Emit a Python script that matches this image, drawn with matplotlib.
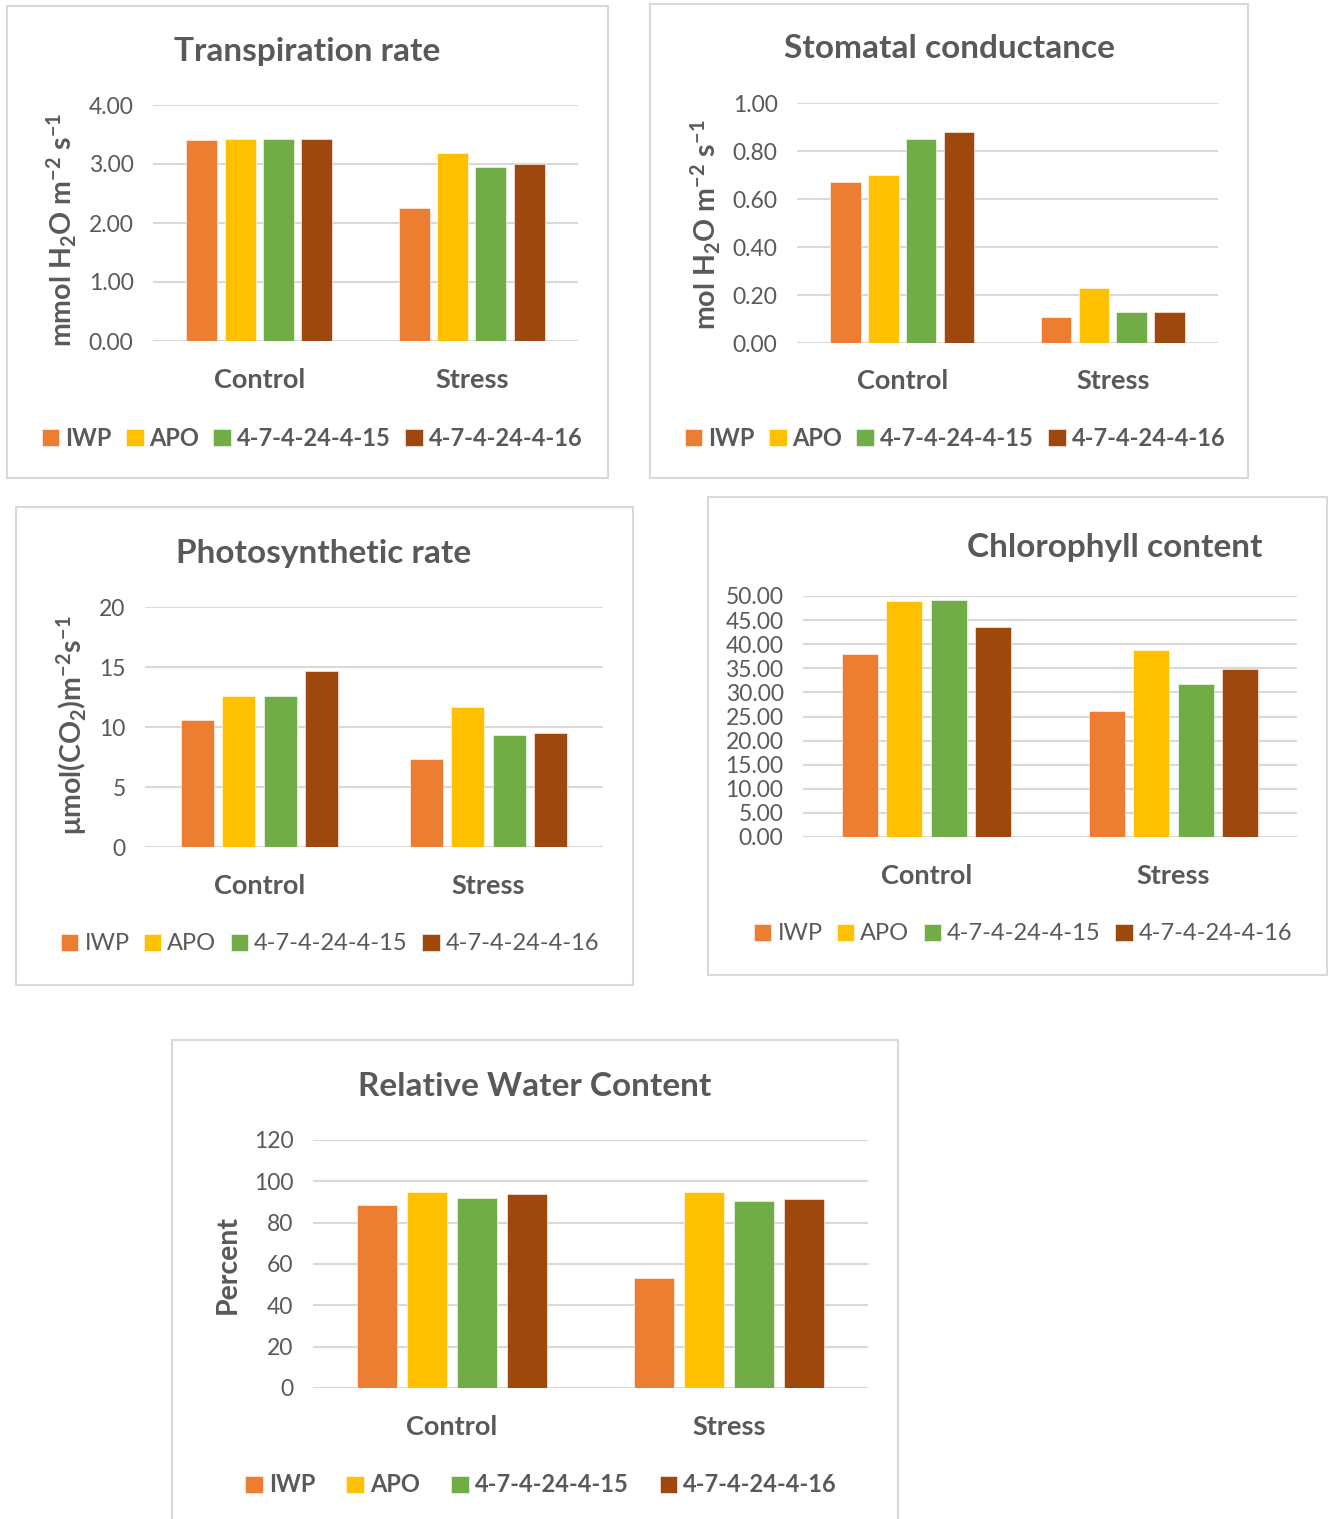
import matplotlib
matplotlib.use("Agg")
import matplotlib.pyplot as plt
from matplotlib.patches import Rectangle
import numpy as np

plt.rcParams['font.family'] = ['Lato', 'DejaVu Sans']
plt.rcParams['mathtext.fontset'] = 'custom'
plt.rcParams['mathtext.rm'] = 'Lato'
plt.rcParams['mathtext.bf'] = 'Lato:bold'
plt.rcParams['mathtext.default'] = 'bf'

categories = ["Control", "Stress"]
series = ["IWP", "APO", "4-7-4-24-4-15", "4-7-4-24-4-16"]
colors = ["#ED7D31", "#FFC000", "#70AD47", "#9E480E"]

transpiration = [[3.40, 2.25], [3.43, 3.18], [3.42, 2.95], [3.43, 3.00]]
stomatal = [[0.67, 0.11], [0.70, 0.23], [0.85, 0.13], [0.88, 0.13]]
photosynthetic = [[10.6, 7.3], [12.6, 11.7], [12.6, 9.3], [14.7, 9.5]]
chlorophyll = [[38.0, 26.2], [49.0, 38.7], [49.2, 31.8], [43.5, 34.8]]
rwc = [[88.5, 53.0], [95.0, 95.0], [92.0, 90.5], [94.0, 91.5]]

W, H = 1335, 1519
fig = plt.figure(figsize=(W / 100, H / 100), dpi=100)
GRAY = "#595959"
GRID = "#d9d9d9"


def fx(x):
    return x / W


def fy(y):
    return 1 - y / H


def panel(box, axbox, data, ticks, fmt, title, tpos, ylabel, ypos, cat_y,
          leg_pos, leg_bold, leg_spacing=1.0):
    x0, y0, x1, y1 = box
    fig.patches.append(Rectangle((fx(x0), fy(y1)), fx(x1 - x0), (y1 - y0) / H,
                                 transform=fig.transFigure, fill=False,
                                 edgecolor=GRID, lw=1.5))
    ax0, ay0, ax1, ay1 = axbox
    ax = fig.add_axes([fx(ax0), fy(ay1), fx(ax1 - ax0), (ay1 - ay0) / H])
    x = np.arange(len(categories))
    step, width = 0.18, 0.145
    for i, (vals, c) in enumerate(zip(data, colors)):
        ax.bar(x + (i - 1.5) * step, vals, width, color=c, label=series[i],
               zorder=3, edgecolor="white", linewidth=0.4)
    ax.set_xlim(-0.5, 1.5)
    ax.set_ylim(ticks[0], ticks[-1])
    ax.set_yticks(ticks)
    ax.set_yticklabels([fmt.format(t) for t in ticks])
    ax.grid(axis="y", color=GRID, lw=1.5, zorder=0)
    ax.set_axisbelow(True)
    for s in ax.spines.values():
        s.set_visible(False)
    ax.tick_params(axis="y", length=0, labelsize=16.5, labelcolor=GRAY, pad=14)
    ax.set_xticks(x)
    ax.set_xticklabels(categories, fontsize=19.5, fontweight="bold", color=GRAY)
    ax.tick_params(axis="x", length=0, pad=(cat_y - ay1 - 11) * 0.72)
    fig.text(fx(tpos[0]), fy(tpos[1] + 2), title, fontsize=24, fontweight="bold",
             color=GRAY, ha="center", va="center")
    if ylabel:
        fig.text(fx(ypos[0]), fy(ypos[1]), ylabel, fontsize=20.5,
                 fontweight="bold", color=GRAY, rotation=90,
                 ha="center", va="center")
    leg = ax.legend(loc="center", bbox_to_anchor=(fx(leg_pos[0]), fy(leg_pos[1])),
                    bbox_transform=fig.transFigure, ncol=4, frameon=False,
                    handlelength=0.75, handleheight=0.75, handletextpad=0.25,
                    columnspacing=0.6 * leg_spacing, borderaxespad=0,
                    prop={"size": 17 if leg_bold else 17,
                          "weight": "bold" if leg_bold else "normal"})
    for t in leg.get_texts():
        t.set_color(GRAY)
    return ax


panel((7, 6, 608, 478), (153, 105, 578, 341), transpiration,
      [0, 1, 2, 3, 4], "{:.2f}", "Transpiration rate", (307, 50),
      r"mmol H$_\mathbf{2}$O m$^\mathbf{-2}$ s$^\mathbf{-1}$", (62, 230),
      379, (312, 438), True)

panel((650, 4, 1248, 478), (797, 103, 1218, 343), stomatal,
      [0, 0.2, 0.4, 0.6, 0.8, 1.0], "{:.2f}", "Stomatal conductance", (949, 47),
      r"mol H$_\mathbf{2}$O m$^\mathbf{-2}$ s$^\mathbf{-1}$", (706, 225),
      380, (955, 438), True)

panel((16, 507, 633, 985), (145, 607, 603, 847), photosynthetic,
      [0, 5, 10, 15, 20], "{:.0f}", "Photosynthetic rate", (324, 552),
      r"μmol(CO$_\mathbf{2}$)m$^\mathbf{-2}$s$^\mathbf{-1}$", (72, 725),
      885, (330, 944), False)

panel((708, 497, 1327, 975), (803, 596, 1297, 837), chlorophyll,
      list(range(0, 51, 5)), "{:.2f}", "Chlorophyll content", (1115, 546),
      None, None, 875, (1023, 934), False)

panel((172, 1040, 898, 1530), (313, 1140, 868, 1388), rwc,
      [0, 20, 40, 60, 80, 100, 120], "{:.0f}", "Relative Water Content",
      (535, 1085), "Percent", (228, 1265), 1426, (541, 1485), True, 2.2)

fig.savefig("out.png", dpi=100)
